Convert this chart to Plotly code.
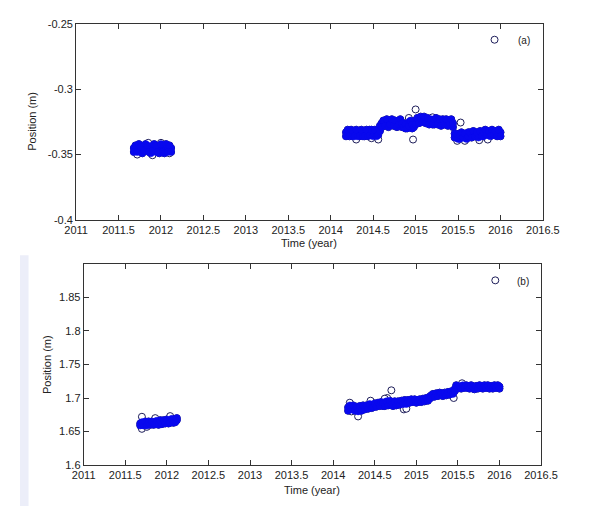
import plotly.graph_objects as go

# ---------------- data ----------------
T1 = [2011.68, 2011.70, 2011.72, 2011.74, 2011.76, 2011.78, 2011.80, 2011.82, 2011.84, 2011.86,
      2011.88, 2011.90, 2011.92, 2011.94, 2011.96, 2011.98, 2012.00, 2012.02, 2012.04, 2012.06,
      2012.08, 2012.10, 2012.12]
T2 = [2014.18, 2014.20, 2014.22, 2014.24, 2014.26, 2014.28, 2014.30, 2014.32, 2014.34, 2014.36,
      2014.38, 2014.40, 2014.42, 2014.44, 2014.46, 2014.48, 2014.50, 2014.52, 2014.54, 2014.56,
      2014.58, 2014.60, 2014.62, 2014.64, 2014.66, 2014.68, 2014.70, 2014.72, 2014.74, 2014.76,
      2014.78, 2014.80, 2014.82, 2014.84, 2014.86, 2014.88, 2014.90, 2014.92, 2014.94, 2014.96,
      2014.98, 2015.00, 2015.02, 2015.04, 2015.06, 2015.08, 2015.10, 2015.12, 2015.14, 2015.16,
      2015.18, 2015.20, 2015.22, 2015.24, 2015.26, 2015.28, 2015.30, 2015.32, 2015.34, 2015.36,
      2015.38, 2015.40, 2015.42, 2015.44, 2015.46, 2015.48, 2015.50, 2015.52, 2015.54, 2015.56,
      2015.58, 2015.60, 2015.62, 2015.64, 2015.66, 2015.68, 2015.70, 2015.72, 2015.74, 2015.76,
      2015.78, 2015.80, 2015.82, 2015.84, 2015.86, 2015.88, 2015.90, 2015.92, 2015.94, 2015.96,
      2015.98, 2016.00]

# (a) component: two daily solutions per epoch
A1 = [-0.345, -0.347, -0.344, -0.346, -0.348, -0.345, -0.343, -0.346, -0.347, -0.344,
      -0.345, -0.343, -0.346, -0.348, -0.344, -0.345, -0.347, -0.343, -0.345, -0.346,
      -0.344, -0.347, -0.345]
A1b = [-0.348, -0.343, -0.348, -0.342, -0.344, -0.349, -0.347, -0.342, -0.343, -0.348,
       -0.349, -0.347, -0.342, -0.343, -0.348, -0.349, -0.342, -0.348, -0.349, -0.342,
       -0.348, -0.343, -0.348]
A2 = [-0.333, -0.335, -0.332, -0.334, -0.336, -0.333, -0.334, -0.332, -0.333, -0.335,
      -0.333, -0.332, -0.334, -0.333, -0.331, -0.334, -0.332, -0.335, -0.333, -0.331,
      -0.328, -0.326, -0.328, -0.325, -0.327, -0.326, -0.324, -0.327, -0.325, -0.328,
      -0.326, -0.324, -0.327, -0.329, -0.326, -0.330, -0.327, -0.325, -0.328, -0.330,
      -0.326, -0.324, -0.326, -0.323, -0.325, -0.322, -0.324, -0.323, -0.325, -0.324,
      -0.326, -0.324, -0.327, -0.325, -0.324, -0.326, -0.325, -0.327, -0.324, -0.326,
      -0.325, -0.324, -0.327, -0.329, -0.334, -0.337, -0.335, -0.338, -0.336, -0.334,
      -0.337, -0.335, -0.333, -0.336, -0.334, -0.335, -0.333, -0.336, -0.334, -0.335,
      -0.333, -0.336, -0.334, -0.332, -0.335, -0.333, -0.334, -0.332, -0.335, -0.333,
      -0.334, -0.333]
A2b = [-0.336, -0.331, -0.336, -0.331, -0.332, -0.336, -0.331, -0.336, -0.336, -0.331,
       -0.336, -0.336, -0.331, -0.336, -0.335, -0.331, -0.336, -0.331, -0.336, -0.335,
       -0.332, -0.329, -0.324, -0.328, -0.323, -0.329, -0.327, -0.323, -0.328, -0.324,
       -0.329, -0.327, -0.323, -0.326, -0.329, -0.327, -0.330, -0.328, -0.324, -0.327,
       -0.329, -0.327, -0.322, -0.326, -0.321, -0.325, -0.321, -0.326, -0.322, -0.327,
       -0.323, -0.327, -0.323, -0.322, -0.327, -0.323, -0.328, -0.323, -0.327, -0.323,
       -0.328, -0.327, -0.323, -0.326, -0.337, -0.334, -0.338, -0.335, -0.333, -0.337,
       -0.334, -0.338, -0.336, -0.333, -0.337, -0.332, -0.336, -0.333, -0.337, -0.332,
       -0.336, -0.333, -0.331, -0.335, -0.332, -0.336, -0.331, -0.335, -0.332, -0.336,
       -0.331, -0.336]
A_raw_t = [2011.72, 2011.90, 2012.00, 2011.85, 2012.10, 2014.30, 2014.48, 2014.56, 2014.97,
           2015.00, 2015.53, 2015.49, 2015.58, 2015.75, 2015.85, 2014.92, 2015.20, 2015.93]
A_raw_y = [-0.350, -0.3505, -0.341, -0.341, -0.349, -0.3385, -0.3375, -0.3385, -0.3385,
           -0.3155, -0.3255, -0.3395, -0.3395, -0.339, -0.3385, -0.322, -0.3215, -0.2622]

# (b) component: two daily solutions per epoch
B1 = [1.662, 1.660, 1.664, 1.661, 1.663, 1.662, 1.664, 1.661, 1.663, 1.665,
      1.662, 1.664, 1.663, 1.665, 1.664, 1.666, 1.664, 1.666, 1.667, 1.665,
      1.667, 1.668, 1.667]
B1b = [1.659, 1.664, 1.659, 1.665, 1.659, 1.665, 1.660, 1.665, 1.660, 1.661,
       1.666, 1.660, 1.667, 1.661, 1.667, 1.662, 1.668, 1.662, 1.663, 1.669,
       1.663, 1.664, 1.670]
B2 = [1.686, 1.683, 1.688, 1.684, 1.686, 1.682, 1.685, 1.683, 1.686, 1.684,
      1.687, 1.685, 1.688, 1.686, 1.689, 1.690, 1.688, 1.691, 1.689, 1.692,
      1.690, 1.688, 1.692, 1.690, 1.693, 1.691, 1.694, 1.692, 1.690, 1.693,
      1.691, 1.694, 1.692, 1.695, 1.693, 1.695, 1.694, 1.696, 1.695, 1.697,
      1.695, 1.696, 1.697, 1.695, 1.697, 1.696, 1.698, 1.697, 1.699, 1.702,
      1.704, 1.703, 1.705, 1.704, 1.706, 1.705, 1.704, 1.706, 1.705, 1.707,
      1.706, 1.708, 1.707, 1.709, 1.713, 1.716, 1.717, 1.715, 1.717, 1.716,
      1.718, 1.716, 1.715, 1.717, 1.716, 1.714, 1.716, 1.715, 1.717, 1.716,
      1.715, 1.717, 1.716, 1.718, 1.716, 1.717, 1.715, 1.717, 1.716, 1.718,
      1.716, 1.717]
B2b = [1.681, 1.689, 1.683, 1.689, 1.681, 1.687, 1.680, 1.688, 1.681, 1.689,
       1.683, 1.689, 1.684, 1.691, 1.685, 1.686, 1.692, 1.687, 1.693, 1.688,
       1.694, 1.693, 1.688, 1.695, 1.689, 1.696, 1.690, 1.688, 1.695, 1.689,
       1.695, 1.690, 1.696, 1.691, 1.697, 1.691, 1.697, 1.693, 1.698, 1.694,
       1.698, 1.693, 1.694, 1.698, 1.694, 1.699, 1.695, 1.700, 1.696, 1.699,
       1.701, 1.706, 1.702, 1.707, 1.703, 1.708, 1.707, 1.703, 1.708, 1.704,
       1.709, 1.705, 1.710, 1.706, 1.710, 1.719, 1.714, 1.718, 1.714, 1.719,
       1.715, 1.719, 1.718, 1.714, 1.719, 1.717, 1.713, 1.718, 1.714, 1.719,
       1.718, 1.714, 1.719, 1.715, 1.719, 1.714, 1.718, 1.714, 1.719, 1.715,
       1.719, 1.714]
B_raw_t = [2011.70, 2011.70, 2011.86, 2012.04, 2011.76, 2014.22, 2014.30, 2014.20, 2014.65,
           2014.70, 2014.62, 2014.85, 2014.88, 2015.45, 2015.55, 2014.45, 2015.95]
B_raw_y = [1.672, 1.654, 1.670, 1.673, 1.657, 1.680, 1.6725, 1.693, 1.700,
           1.7115, 1.699, 1.683, 1.684, 1.700, 1.722, 1.696, 1.8755]

X_TICKS = [2011, 2011.5, 2012, 2012.5, 2013, 2013.5, 2014, 2014.5, 2015, 2015.5, 2016, 2016.5]
X_LABELS = ["2011", "2011.5", "2012", "2012.5", "2013", "2013.5", "2014", "2014.5",
            "2015", "2015.5", "2016", "2016.5"]
YA_TICKS = [-0.4, -0.35, -0.3, -0.25]
YA_LABELS = ["-0.4", "-0.35", "-0.3", "-0.25"]
YB_TICKS = [1.6, 1.65, 1.7, 1.75, 1.8, 1.85]
YB_LABELS = ["1.6", "1.65", "1.7", "1.75", "1.8", "1.85"]

# ---------------- figure ----------------
W, H = 589, 506
OFF = 8  # the page body margin shifts the figure by this many pixels
FONT = "Liberation Sans, Arial, sans-serif"
EDGE = "#1e1e5a"
BLUE = "#0808ee"

def px(x):
    return (x - OFF) / W

def py(y):
    return 1 - (y - OFF) / H

T_all = T1 + T2
fig = go.Figure()

def add_panel(xa, ya, main_y, main_y2, raw_t, raw_y):
    xs = T_all + T_all
    ys = main_y + main_y2
    fig.add_trace(go.Scatter(
        x=xs + raw_t, y=ys + raw_y, mode="markers", xaxis=xa, yaxis=ya,
        marker=dict(symbol="circle", size=7, color="white", line=dict(color=EDGE, width=1)),
        showlegend=False, hoverinfo="skip"))
    fig.add_trace(go.Scatter(
        x=xs, y=ys, mode="markers", xaxis=xa, yaxis=ya,
        marker=dict(symbol="circle", size=7, color=BLUE, line=dict(color=BLUE, width=0.5)),
        showlegend=False, hoverinfo="skip"))

add_panel("x", "y", A1 + A2, A1b + A2b, A_raw_t, A_raw_y)
add_panel("x2", "y2", B1 + B2, B1b + B2b, B_raw_t, B_raw_y)

axis_common = dict(
    showline=True, linecolor="#333333", linewidth=1, mirror="ticks",
    ticks="inside", ticklen=5, tickcolor="#333333", showgrid=False, zeroline=False,
    tickfont=dict(family=FONT, size=11, color="#222222"),
)

fig.update_layout(
    width=W, height=H,
    margin=dict(l=0, r=0, t=0, b=0),
    paper_bgcolor="white", plot_bgcolor="white",
    xaxis=dict(domain=[px(67), px(558)], anchor="y", range=[2011, 2016.5],
               tickvals=X_TICKS, ticktext=X_LABELS, **axis_common),
    yaxis=dict(domain=[py(219), py(18)], anchor="x", range=[-0.4, -0.25],
               tickvals=YA_TICKS, ticktext=YA_LABELS, **axis_common),
    xaxis2=dict(domain=[px(75), px(556)], anchor="y2", range=[2011, 2016.5],
                tickvals=X_TICKS, ticktext=X_LABELS, **axis_common),
    yaxis2=dict(domain=[py(470), py(264)], anchor="x2", range=[1.6, 1.9],
                tickvals=YB_TICKS, ticktext=YB_LABELS, **axis_common),
    shapes=[
        dict(type="rect", xref="paper", yref="paper", x0=0, x1=px(17),
             y0=0, y1=py(255), fillcolor="#eceef9", line=dict(width=0), layer="below"),
    ],
)

def txt(x, y, s, angle=0, size=11):
    fig.add_annotation(x=px(x), y=py(y), xref="paper", yref="paper", text=s,
                       showarrow=False, textangle=angle,
                       font=dict(family=FONT, size=size, color="#222222"),
                       xanchor="center", yanchor="middle")

txt(312, 243, "Time (year)")
txt(315, 496, "Time (year)")
txt(21, 118, "Position (m)", angle=-90)
txt(37, 367, "Position (m)", angle=-90)
txt(538, 35, "(a)", size=10)
txt(537, 282, "(b)", size=10)

fig.write_html("out.html")
